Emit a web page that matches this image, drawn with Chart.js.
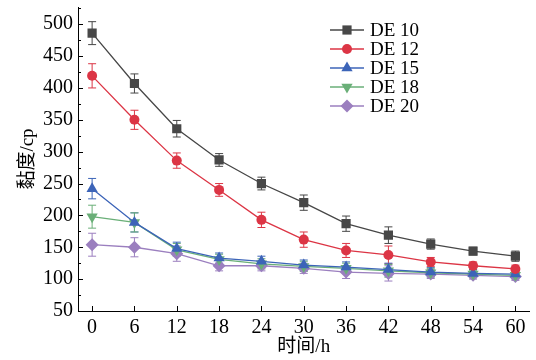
<!DOCTYPE html>
<html>
<head>
<meta charset="utf-8">
<script src="https://cdn.jsdelivr.net/npm/chart.js@4"></script>
<style>
  html, body { margin: 0; padding: 0; background: #fff; }
  #wrap { width: 536px; height: 360px; }
</style>
</head>
<body>
<div id="wrap"><canvas id="chart" width="536" height="360"></canvas></div>
<script>
const hours = [0, 6, 12, 18, 24, 30, 36, 42, 48, 54, 60];
const xTicks = [0, 6, 12, 18, 24, 30, 36, 42, 48, 54, 60];
const yTicks = [50, 100, 150, 200, 250, 300, 350, 400, 450, 500];

const seriesNames = ['DE 10', 'DE 12', 'DE 15', 'DE 18', 'DE 20'];
const de10 = [486, 407, 336, 287, 250, 220, 187, 169, 155, 144, 136];
const de10Err = [18, 15, 13, 10, 10, 12, 12, 13, 8, 6, 8];
const de12 = [419, 350, 286, 240, 193, 162, 145, 138, 127, 121, 116];
const de12Err = [19, 15, 12, 10, 12, 12, 11, 14, 7, 6, 6];
const de15 = [242, 189, 148, 133, 128, 122, 119, 115, 111, 109, 108];
const de15Err = [16, 15, 10, 8, 8, 8, 8, 10, 7, 6, 6];
const de18 = [198, 189, 146, 131, 124, 120, 117, 113, 110, 108, 106];
const de18Err = [18, 15, 10, 8, 8, 8, 8, 10, 7, 6, 6];
const de20 = [154, 150, 140, 121, 121, 117, 111, 109, 108, 106, 104];
const de20Err = [18, 15, 12, 8, 8, 8, 10, 12, 7, 6, 6];

const COLORS = ['#474747', '#dc3545', '#3c64b8', '#6aaf78', '#9b7fbf'];
const STYLES = ['rect', 'circle', 'triangle', 'triangle', 'rectRot'];
const ROTS = [0, 0, 0, 180, 0];
const RADII = [6.5, 5, 6.5, 6.5, 6.5];

const values = [de10, de12, de15, de18, de20];
const errors = [de10Err, de12Err, de15Err, de18Err, de20Err];

const SERIF = '"Liberation Serif", "Times New Roman", serif';
const CJK = '"Liberation Serif", "Noto Sans CJK SC", serif';

const datasets = values.map((vals, k) => ({
  label: seriesNames[k],
  data: hours.map((h, i) => ({ x: h, y: vals[i] })),
  errors: errors[k],
  borderColor: COLORS[k],
  backgroundColor: COLORS[k],
  borderWidth: 1.3,
  pointStyle: STYLES[k],
  pointRotation: ROTS[k],
  pointRadius: RADII[k],
  pointBorderWidth: 0,
  pointHoverRadius: RADII[k],
  tension: 0
}));

// error bars with caps, drawn under the markers
const errorBars = {
  id: 'errorBars',
  beforeDatasetsDraw(chart) {
    const { ctx, scales: { x, y } } = chart;
    ctx.save();
    ctx.lineWidth = 1;
    chart.data.datasets.forEach(ds => {
      ctx.strokeStyle = ds.borderColor;
      ds.data.forEach((p, i) => {
        const px = x.getPixelForValue(p.x);
        const top = y.getPixelForValue(p.y + ds.errors[i]);
        const bot = y.getPixelForValue(p.y - ds.errors[i]);
        ctx.beginPath();
        ctx.moveTo(px, top); ctx.lineTo(px, bot);
        ctx.moveTo(px - 4, top); ctx.lineTo(px + 4, top);
        ctx.moveTo(px - 4, bot); ctx.lineTo(px + 4, bot);
        ctx.stroke();
      });
    });
    ctx.restore();
  }
};

// inward tick marks (major + minor on y)
const innerTicks = {
  id: 'innerTicks',
  afterDraw(chart) {
    const { ctx, chartArea, scales: { x, y } } = chart;
    ctx.save();
    ctx.strokeStyle = '#000';
    ctx.lineWidth = 1;
    ctx.beginPath();
    xTicks.forEach(v => {
      const px = Math.round(x.getPixelForValue(v)) + 0.5;
      ctx.moveTo(px, chartArea.bottom); ctx.lineTo(px, chartArea.bottom - 5);
    });
    yTicks.forEach(v => {
      const py = Math.round(y.getPixelForValue(v)) + 0.5;
      ctx.moveTo(chartArea.left, py); ctx.lineTo(chartArea.left + 5, py);
      const pm = Math.round(y.getPixelForValue(v + 25)) + 0.5;
      ctx.moveTo(chartArea.left, pm); ctx.lineTo(chartArea.left + 3, pm);
    });
    ctx.stroke();
    ctx.restore();
  }
};

// legend: line + marker + name
const lineLegend = {
  id: 'lineLegend',
  afterDraw(chart) {
    const { ctx } = chart;
    ctx.save();
    chart.data.datasets.forEach((ds, k) => {
      const yy = 30 + k * 19;
      ctx.strokeStyle = ds.borderColor;
      ctx.lineWidth = 1.3;
      ctx.beginPath();
      ctx.moveTo(330, yy); ctx.lineTo(364, yy);
      ctx.stroke();
      ctx.fillStyle = ds.backgroundColor;
      Chart.helpers.drawPoint(ctx, {
        pointStyle: ds.pointStyle, rotation: ds.pointRotation,
        radius: ds.pointRadius, borderWidth: 0
      }, 347, yy);
      ctx.fillStyle = '#000';
      ctx.font = '19px ' + SERIF;
      ctx.textBaseline = 'middle';
      ctx.fillText(ds.label, 370, yy + 1);
    });
    ctx.restore();
  }
};

new Chart(document.getElementById('chart'), {
  type: 'line',
  data: { datasets },
  options: {
    responsive: false,
    animation: false,
    events: [],
    layout: { padding: { left: 0, right: 3, top: 7, bottom: 0 } },
    plugins: { legend: { display: false }, tooltip: { enabled: false } },
    scales: {
      x: {
        type: 'linear',
        min: -2, max: 62,
        afterBuildTicks(scale) { scale.ticks = xTicks.map(v => ({ value: v })); },
        afterFit(scale) { scale.height = 49; scale.paddingLeft = 0; scale.paddingRight = 0; },
        grid: { display: false, drawTicks: false },
        border: { display: true, color: '#000', width: 1 },
        ticks: { color: '#000', padding: 5, maxRotation: 0, autoSkip: false,
          font: { family: SERIF, size: 20 } },
        title: { display: true, text: '时间/h', color: '#000', padding: { top: 0, bottom: 2 },
          font: { family: CJK, size: 19 } }
      },
      y: {
        min: 50, max: 527,
        afterBuildTicks(scale) { scale.ticks = yTicks.map(v => ({ value: v })); },
        afterFit(scale) { scale.width = 78; scale.paddingTop = 0; scale.paddingBottom = 0; },
        grid: { display: false, drawTicks: false },
        border: { display: true, color: '#000', width: 1 },
        ticks: { color: '#000', padding: 5, font: { family: SERIF, size: 20 } },
        title: { display: true, text: '黏度/cp', color: '#000', padding: { top: 17, bottom: 0 },
          font: { family: CJK, size: 19 } }
      }
    }
  },
  plugins: [errorBars, innerTicks, lineLegend]
});
</script>
</body>
</html>
